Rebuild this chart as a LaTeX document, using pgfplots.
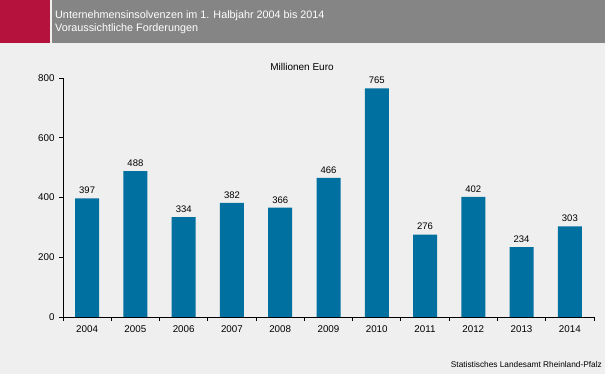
\documentclass[border=0pt]{standalone}
\usepackage{pgfplots}
\pgfplotsset{compat=1.18}
\usepackage{fontspec}
\setmainfont{Liberation Sans}
\definecolor{bg}{RGB}{238,239,238}
\definecolor{hdr}{RGB}{133,133,133}
\definecolor{red1}{RGB}{181,18,62}
\definecolor{bar}{RGB}{0,112,160}
\begin{document}
\begin{tikzpicture}
\fill[bg] (0bp,0bp) rectangle (605bp,374bp);
\fill[red1] (0bp,331bp) rectangle (50bp,374bp);
\fill[hdr] (52bp,331bp) rectangle (605bp,374bp);
\node[anchor=west,text=white,font=\fontsize{10.8bp}{12bp}\selectfont,inner sep=0pt] at (55bp,358.5bp) {Unternehmensinsolvenzen im 1. Halbjahr 2004 bis 2014};
\node[anchor=west,text=white,font=\fontsize{10.8bp}{12bp}\selectfont,inner sep=0pt] at (55bp,345.5bp) {Voraussichtliche Forderungen};
\node[anchor=east,font=\fontsize{8.3bp}{10bp}\selectfont,inner sep=0pt] at (602bp,9bp) {Statistisches Landesamt Rheinland-Pfalz};
\node[font=\fontsize{10bp}{11bp}\selectfont,inner sep=0pt] at (302bp,307bp) {Millionen Euro};
\begin{axis}[
  at={(63bp,57bp)}, anchor=origin,
  scale only axis, width=531bp, height=239bp,
  xmin=2003.5, xmax=2014.5, ymin=0, ymax=800,
  axis lines*=left, axis line style={black, line width=0.9pt},
  axis line style={-},
  ytick={0,200,...,800},
  xtick={2004,...,2014},
  minor xtick={2003.5,2004.5,...,2014.5},
  major x tick style={draw=none},
  minor x tick style={black,line width=0.9pt},
  ytick style={black,line width=0.9pt},
  tick align=outside, major tick length=4bp, minor tick length=4bp,
  /pgf/number format/assume math mode=true,
  /pgf/number format/1000 sep={},
  tick label style={font=\fontsize{9.8bp}{11bp}\selectfont},
  xticklabel style={yshift=-1bp},
  yticklabel style={xshift=-1bp},
  ybar, bar width=24bp,
  nodes near coords,
  nodes near coords style={font=\fontsize{9.5bp}{11bp}\selectfont, yshift=1bp},
  clip=false,
]
\addplot[fill=bar, draw=none] coordinates {
(2004,397) (2005,488) (2006,334) (2007,382) (2008,366) (2009,466)
(2010,765) (2011,276) (2012,402) (2013,234) (2014,303)};
\end{axis}
\end{tikzpicture}
\end{document}
